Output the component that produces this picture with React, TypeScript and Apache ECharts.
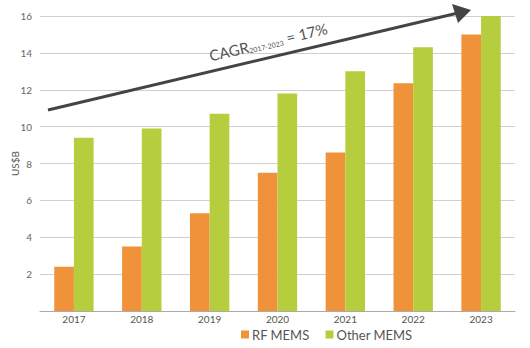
import React, { useEffect, useRef } from "react";
import * as echarts from "echarts";

const categories = ["2017", "2018", "2019", "2020", "2021", "2022", "2023"];
const rfMems = [2.4, 3.5, 5.3, 7.5, 8.6, 12.35, 15.0];
const otherMems = [9.4, 9.9, 10.7, 11.8, 13.0, 14.3, 16.0];
const seriesNames = ["RF MEMS", "Other MEMS"];
const yTicks = { min: 0, max: 16, interval: 2 };

const FONT = "Lato, 'Open Sans', sans-serif";

export default function App() {
  const ref = useRef<HTMLDivElement>(null);
  useEffect(() => {
    if (!ref.current) return;
    const chart = echarts.init(ref.current, null, { renderer: "svg" });
    const ang = Math.atan2(110 - 11, 468 - 48);
    chart.setOption({
      animation: false,
      textStyle: { fontFamily: FONT },
      grid: { left: 40, right: 15, top: 16, bottom: 37, containLabel: false, outerBoundsMode: "none" },
      legend: {
        data: seriesNames,
        left: 236,
        bottom: 2,
        itemWidth: 8,
        itemHeight: 8,
        itemGap: 16,
        icon: "rect",
        textStyle: { color: "#555", fontSize: 13, fontFamily: FONT, padding: [0, 0, 0, -2] },
      },
      xAxis: {
        type: "category",
        data: categories,
        axisLine: { lineStyle: { color: "#aaa" } },
        axisTick: { show: false },
        axisLabel: { color: "#555", fontSize: 10, margin: 3 },
      },
      yAxis: {
        type: "value",
        min: yTicks.min,
        max: yTicks.max,
        interval: yTicks.interval,
        name: "US$B",
        nameLocation: "middle",
        nameGap: 20,
        nameMoveOverlap: false,
        nameTextStyle: { color: "#555", fontSize: 10 },
        axisLine: { show: false },
        axisTick: { show: false },
        axisLabel: {
          color: "#666",
          fontSize: 10,
          margin: 8,
          formatter: (v: number) => (v === 0 ? "" : String(v)),
        },
        splitLine: { lineStyle: { color: "#d0d0d0" } },
      },
      series: [
        {
          name: seriesNames[0],
          type: "bar",
          data: rfMems,
          itemStyle: { color: "#F0923A" },
          barGap: "0%",
          barCategoryGap: "42%",
        },
        {
          name: seriesNames[1],
          type: "bar",
          data: otherMems,
          itemStyle: { color: "#B6CE3E" },
        },
      ],
      graphic: [
        {
          type: "line",
          shape: { x1: 48, y1: 110, x2: 458, y2: 13 },
          style: { stroke: "#444", lineWidth: 3 },
          z: 10,
        },
        {
          type: "polygon",
          shape: { points: [[452, 4], [471, 10], [458, 23]] },
          style: { fill: "#444" },
          z: 10,
        },
        {
          type: "text",
          x: 211,
          y: 63,
          rotation: ang,
          originX: 0,
          originY: 0,
          style: {
            text: "{a|CAGR}{s|2017-2023}{a| = 17%}",
            fill: "#555",
            textVerticalAlign: "bottom",
            rich: {
              a: { fontSize: 15, fill: "#555", fontFamily: FONT },
              s: { fontSize: 7, fill: "#555", fontFamily: FONT, verticalAlign: "bottom", padding: [6, 0, 0, 0] },
            },
          },
          z: 10,
        },
      ],
    });
    return () => chart.dispose();
  }, []);
  return <div ref={ref} style={{ width: 530, height: 348, position: "absolute", left: 0, top: 0 }} />;
}
